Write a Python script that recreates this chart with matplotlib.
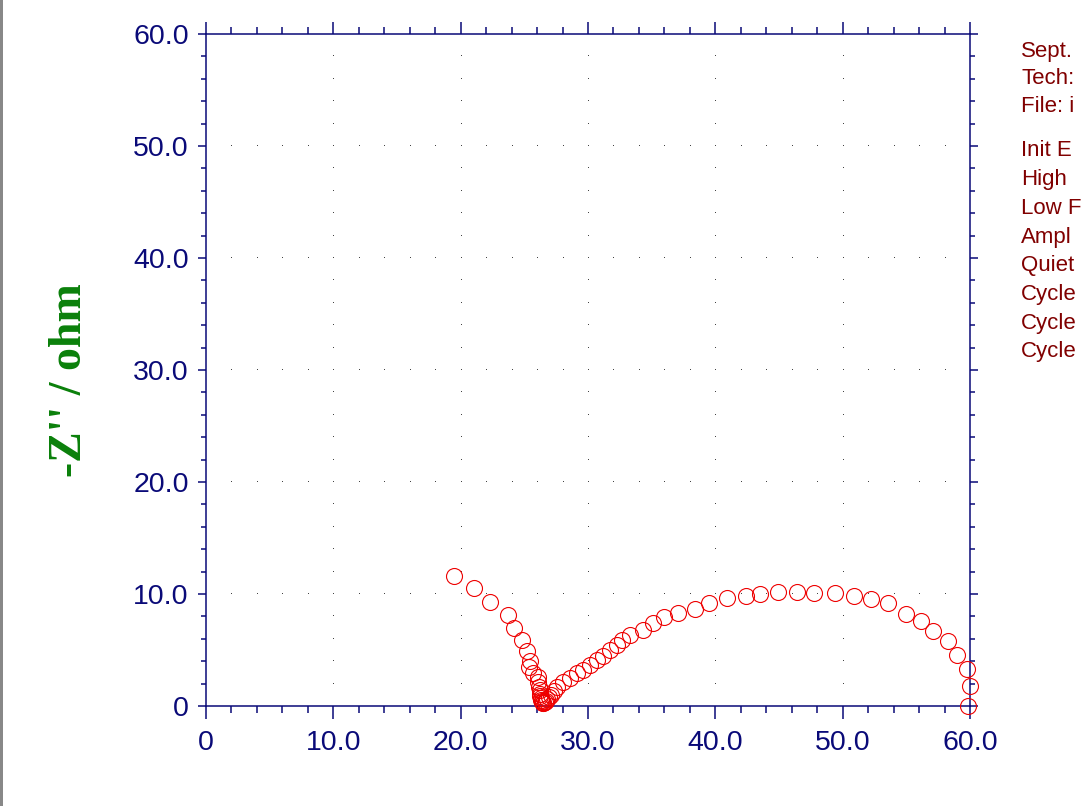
import numpy as np
import matplotlib
matplotlib.use('Agg')
import matplotlib.pyplot as plt
from matplotlib.ticker import MultipleLocator
from matplotlib.patches import Rectangle

# Nyquist data (Z' / ohm, -Z'' / ohm)
zReal = [19.48, 21.02, 22.28, 23.72, 24.16, 24.79, 25.21, 25.47, 25.37, 25.68,
         26.05, 26.10, 26.15, 26.20, 26.20, 26.25, 26.30, 26.30, 26.35, 26.40,
         26.45, 26.50, 26.60, 26.70, 26.80, 26.95, 27.10, 27.30,
         27.54, 28.06, 28.59, 29.11, 29.63, 30.16, 30.68, 31.20, 31.73, 32.25,
         32.70, 33.30, 34.29, 35.08, 35.97, 37.04, 38.38, 39.53, 40.89, 42.38,
         43.51, 44.90, 46.39, 47.78, 49.40, 50.92, 52.20, 53.54, 54.95, 56.15,
         57.12, 58.25, 59.00, 59.74, 60.00, 59.87]
zImag = [11.63, 10.56, 9.26, 8.10, 6.94, 5.89, 4.94, 4.05, 3.45, 2.98,
         2.60, 2.10, 1.70, 1.40, 1.10, 0.90, 0.70, 0.55, 0.45, 0.35,
         0.30, 0.30, 0.35, 0.45, 0.60, 0.80, 1.00, 1.30,
         1.73, 2.17, 2.47, 2.92, 3.21, 3.66, 4.11, 4.46, 5.00, 5.45,
         5.90, 6.34, 6.79, 7.38, 7.92, 8.33, 8.66, 9.17, 9.61, 9.85,
         10.00, 10.21, 10.21, 10.06, 10.12, 9.85, 9.55, 9.17, 8.21, 7.59,
         6.73, 5.80, 4.55, 3.27, 1.79, 0.03]

# header lines, only the part visible in the window
headLines = ["Sept.", "Tech:", "File: i"]
paramLines = ["Init E", "High", "Low F", "Ampl", "Quiet", "Cycle", "Cycle", "Cycle"]

navy = '#0a0a78'
plt.rcParams['font.family'] = ['Liberation Sans', 'DejaVu Sans']

fig = plt.figure(figsize=(10.81, 8.06), dpi=100)
ax = fig.add_axes([206/1081, 1-706/806, 764/1081, 672/806])

#dotted grid: single pixel dots at minor positions along major lines
minors = np.arange(2, 60, 2)
majors = np.arange(10, 60, 10)
gx = np.concatenate([np.repeat(minors, len(majors)), np.tile(majors, len(minors))])
gy = np.concatenate([np.tile(majors, len(minors)), np.repeat(minors, len(majors))])
ax.plot(gx, gy, ',', color='#444444', zorder=1)

ax.plot(zReal, zImag, linestyle='none', marker='o', markersize=11.5,
        markerfacecolor='none', markeredgecolor='#ee0000', markeredgewidth=0.8,
        clip_on=False, zorder=3)

ax.set_xlim(0, 60)
ax.set_ylim(0, 60)
ax.xaxis.set_major_locator(MultipleLocator(10))
ax.xaxis.set_minor_locator(MultipleLocator(2))
ax.yaxis.set_major_locator(MultipleLocator(10))
ax.yaxis.set_minor_locator(MultipleLocator(2))
fmt = lambda v, p: '0' if v == 0 else '%.1f' % v
ax.xaxis.set_major_formatter(fmt)
ax.yaxis.set_major_formatter(fmt)

for s in ax.spines.values():
    s.set_color(navy)
    s.set_linewidth(1.1)

ax.tick_params(axis='both', which='both', direction='out', colors=navy,
               top=True, right=True, labelsize=20.5, width=1.1)
ax.tick_params(axis='x', which='major', length=9, pad=8)
ax.tick_params(axis='x', which='minor', length=5)
ax.tick_params(axis='y', which='major', length=5.5, pad=7)
ax.tick_params(axis='y', which='minor', length=3.5)

ax.set_ylabel("-Z'' / ohm", family=['Liberation Serif', 'DejaVu Serif'],
              fontweight='bold', fontsize=33, color='#0a800a')
ax.yaxis.set_label_coords(-0.150, 0.485)

#info text on the right
for i, line in enumerate(headLines):
    fig.text(1021/1081, 1-(51+28*i)/806, line, fontsize=16, color='#800000',
             ha='left', va='center')
for i, line in enumerate(paramLines):
    fig.text(1021/1081, 1-(151+28.7*i)/806, line, fontsize=16, color='#800000',
             ha='left', va='center')

#grey window border on the left
fig.add_artist(Rectangle((0, 0), 3/1081, 1, transform=fig.transFigure,
                         color='#888888', lw=0))

fig.savefig('out.png', dpi=100)
